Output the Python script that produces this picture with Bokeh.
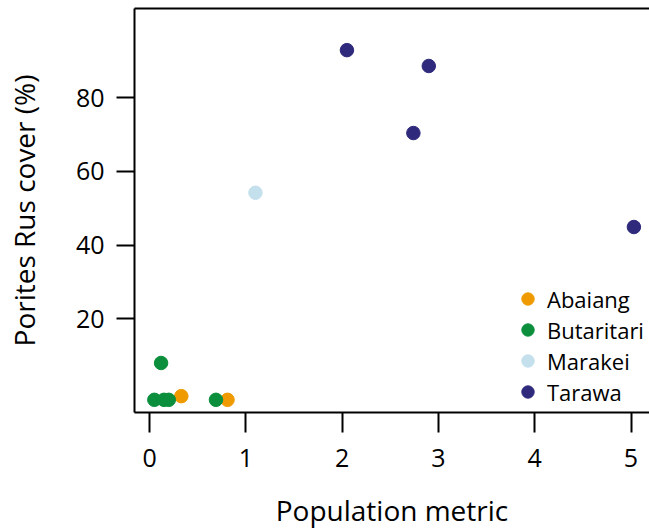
from bokeh.plotting import figure
from bokeh.models import Range1d, LinearAxis, FixedTicker, Legend, LegendItem
from bokeh.embed import file_html
from bokeh.resources import INLINE

# ---- data ----
islands = ["Abaiang", "Butaritari", "Marakei", "Tarawa"]
colors = ["#EE9A00", "#0B8F3C", "#C4E0EC", "#2F2A7C"]
abaiang_x = [0.33, 0.81]
abaiang_y = [-1.0, -2.0]
butaritari_x = [0.05, 0.15, 0.20, 0.12, 0.69]
butaritari_y = [-2.0, -2.0, -2.0, 8.0, -2.0]
marakei_x = [1.10]
marakei_y = [54.2]
tarawa_x = [2.05, 2.90, 2.74, 5.03]
tarawa_y = [92.9, 88.6, 70.4, 44.9]
x_ticks = [0, 1, 2, 3, 4, 5]
y_ticks = [20, 40, 60, 80]
x_title = "Population metric"
y_title = "Porites Rus cover (%)"

xs = [abaiang_x, butaritari_x, marakei_x, tarawa_x]
ys = [abaiang_y, butaritari_y, marakei_y, tarawa_y]

FONT = "Open Sans"

p = figure(width=649, height=531, output_backend="svg", toolbar_location=None,
           x_range=Range1d(-0.156, 5.192), y_range=Range1d(-5.44, 104.2),
           min_border_left=134, min_border_right=0, min_border_top=8,
           min_border_bottom=118)
p.outline_line_color = None
p.xgrid.visible = False
p.ygrid.visible = False
p.background_fill_color = "white"

for ax in (p.xaxis[0], p.yaxis[0]):
    ax.axis_line_width = 2
    ax.axis_line_color = "black"
    ax.major_tick_line_width = 2
    ax.major_tick_in = 0
    ax.minor_tick_line_color = None
    ax.major_label_text_font = FONT
    ax.major_label_text_font_size = "25px"
    ax.major_label_text_color = "black"
    ax.axis_label_text_font = FONT
    ax.axis_label_text_font_size = "28px"
    ax.axis_label_text_font_style = "normal"
    ax.axis_label_text_color = "black"

p.xaxis[0].ticker = FixedTicker(ticks=x_ticks)
p.xaxis[0].major_tick_out = 20
p.xaxis[0].major_label_standoff = 16
p.xaxis[0].axis_label = x_title
p.xaxis[0].axis_label_standoff = 21

p.yaxis[0].ticker = FixedTicker(ticks=y_ticks)
p.yaxis[0].major_tick_out = 18
p.yaxis[0].major_label_standoff = 12
p.yaxis[0].major_label_orientation = "horizontal"
p.yaxis[0].axis_label = y_title
p.yaxis[0].axis_label_standoff = 30

top = LinearAxis(ticker=FixedTicker(ticks=[]), axis_line_width=2, axis_line_color="black",
                 major_tick_in=0, major_tick_out=0, minor_tick_in=0, minor_tick_out=0,
                 major_tick_line_color=None, minor_tick_line_color=None,
                 major_label_text_font_size="0px", major_label_standoff=0)
p.add_layout(top, "above")

items = []
for name, c, x, y in zip(islands, colors, xs, ys):
    r = p.scatter(x, y, size=13.5, fill_color=c, line_color=c)
    items.append(LegendItem(label=name, renderers=[r]))

legend = Legend(items=items, location=(378, 5), background_fill_alpha=0,
                border_line_color=None, padding=0, margin=0, spacing=0,
                glyph_height=31, glyph_width=31, label_height=31, label_standoff=4,
                label_text_font=FONT, label_text_font_size="22px", label_text_color="black")
p.add_layout(legend)

open("out.html", "w").write(file_html(p, INLINE))
